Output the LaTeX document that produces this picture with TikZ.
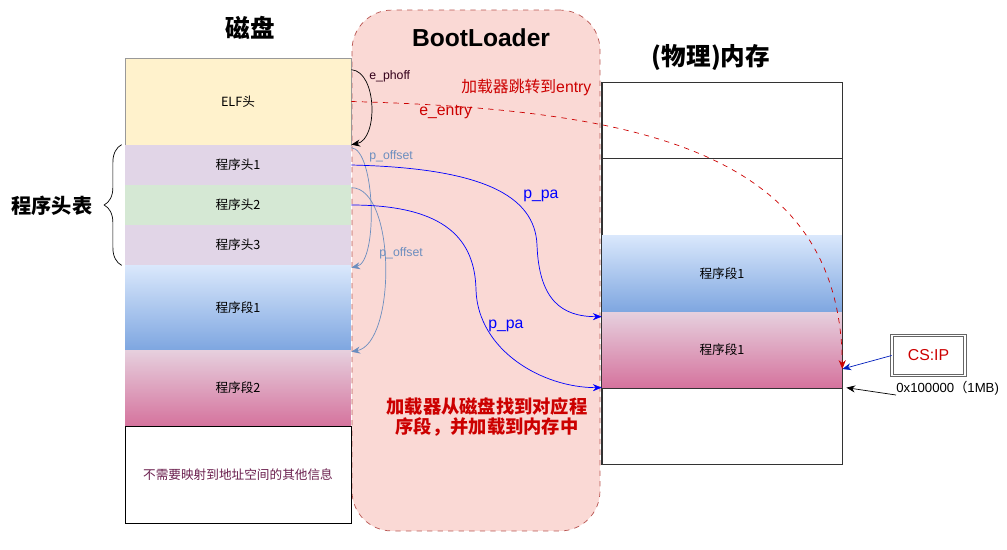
\documentclass[tikz,border=0pt]{standalone}
\usepackage{fontspec}
\setmainfont{Liberation Sans}
\newfontfamily\cjk{Noto Sans CJK SC}
\usetikzlibrary{arrows.meta, positioning, decorations.pathreplacing, calc}
\definecolor{mElfYellow}{HTML}{FFF2CC}
\definecolor{mHeadPurple}{HTML}{E1D5E7}
\definecolor{mHeadGreen}{HTML}{D5E8D4}
\definecolor{mSegBlueTop}{HTML}{DAE8FC}
\definecolor{mSegBlueBot}{HTML}{7EA6E0}
\definecolor{mSegPinkTop}{HTML}{E6D0DE}
\definecolor{mSegPinkBot}{HTML}{D5739D}
\definecolor{mLoaderFill}{HTML}{FAD9D5}
\definecolor{mLoaderEdge}{HTML}{B85450}
\definecolor{mOffset}{HTML}{6C8EBF}
\definecolor{mEntryRed}{HTML}{CC0000}
\definecolor{mDarkBlue}{HTML}{001DBC}
\definecolor{mInfo}{HTML}{6B1F4E}
\definecolor{mPhoff}{HTML}{33001A}

\begin{document}
\begin{tikzpicture}[x=0.02cm, y=-0.02cm,
    cell/.style={minimum width=4.52cm, inner sep=0pt, font=\fontsize{7.2}{8}\selectfont\cjk},
    mcell/.style={cell, minimum width=4.8cm, draw=black!80},
    title/.style={font=\fontsize{14}{16}\selectfont\bfseries},
    arr/.style={-{Stealth[length=5pt, width=4pt]}},
    tag/.style={anchor=west, inner sep=0pt}]
\useasboundingbox (0,0) rectangle (1007,549);
% BootLoader region
\node[draw=mLoaderEdge, dashed, fill=mLoaderFill, rounded corners=0.8cm,
      minimum width=4.96cm, minimum height=10.42cm] (boot) at (476,270.5) {};
% Titles
\node[title] (diskT) at (250,28) {\cjk 磁盘};
\node[title] (bootT) at (481,38) {BootLoader};
\node[title] (memT) at (711,57) {\cjk (物理)内存};
% Disk
\node[cell, fill=mElfYellow, draw=black!40, minimum height=1.74cm] (elf) at (238,101.5) {ELF头};
\node[cell, fill=mHeadPurple, minimum height=0.8cm] (ph1) at (238,165) {程序头1};
\node[cell, fill=mHeadGreen, minimum height=0.8cm] (ph2) at (238,205) {程序头2};
\node[cell, fill=mHeadPurple, minimum height=0.8cm] (ph3) at (238,245) {程序头3};
\node[cell, top color=mSegBlueTop, bottom color=mSegBlueBot, minimum height=1.7cm] (seg1) at (238,307.5) {程序段1};
\node[cell, top color=mSegPinkTop, bottom color=mSegPinkBot, minimum height=1.52cm] (seg2) at (238,388) {程序段2};
\node[cell, draw=black, fill=white, text=mInfo, minimum height=1.94cm] (other) at (238,474.5) {不需要映射到地址空间的其他信息};
% Program header table brace
\draw[decorate, decoration={brace, amplitude=10pt}]
    ([xshift=-0.06cm]ph3.south west) -- ([xshift=-0.06cm]ph1.north west);
\node[font=\fontsize{11.5}{13}\selectfont\bfseries\cjk] (phtab) at (52,206) {程序头表};
% Memory
\node[mcell, minimum height=1.52cm] (m1) at (722,120) {};
\node[mcell, minimum height=1.54cm] (m2) at (722,196.5) {};
\node[mcell, top color=mSegBlueTop, bottom color=mSegBlueBot, draw=none, minimum height=1.54cm] (m3) at (722,273.5) {程序段1};
\node[mcell, top color=mSegPinkTop, bottom color=mSegPinkBot, draw=none, minimum height=1.52cm] (m4) at (722,350) {程序段1};
\node[mcell, minimum height=1.52cm] (m5) at (722,426) {};
\draw[black!80] (m1.north west) -- (m5.south west) -- (m5.south east) -- (m1.north east);
\coordinate (entry) at ([yshift=-0.38cm]m4.east);
% CS:IP register
\node[draw=black!60, double=white, double distance=1pt, minimum width=1.46cm, minimum height=0.8cm,
      text=mEntryRed, font=\fontsize{9}{10}\selectfont] (csip) at (928.5,355.5) {CS:IP};
\node[tag, font=\fontsize{7.5}{9}\selectfont] (addr) at (896,388) {0x100000{\cjk （}1MB)};
\draw[arr, mDarkBlue] (csip.west) -- (entry);
\draw[arr, black] ([yshift=-0.14cm]addr.west) -- ([xshift=0.08cm]m5.north east);
% e_phoff
\draw[arr, black] ([yshift=-0.24cm]elf.north east) .. controls +(26,2) and +(27,-5) .. (ph1.north east);
\node[tag, text=mPhoff, font=\fontsize{7}{8}\selectfont] at (369,76) {e\_phoff};
% e_entry
\draw[arr, mEntryRed, dashed] (elf.east) .. controls +(289,8) and +(-2,-218) .. (entry);
\node[tag, text=mEntryRed, font=\fontsize{9}{10}\selectfont] at (419,112) {e\_entry};
\node[tag, text=mEntryRed, font=\fontsize{9}{10}\selectfont] at (461,87) {{\cjk 加载器跳转到}entry};
% p_offset
\draw[arr, mOffset] ([yshift=-0.06cm]ph1.north east) .. controls +(24,2) and +(27,-6) .. ([yshift=-0.06cm]seg1.north east);
\draw[arr, mOffset] ([yshift=-0.06cm]ph2.north east) .. controls +(45,0) and +(45,-8) .. ([yshift=-0.04cm]seg2.north east);
\node[tag, text=mOffset, font=\fontsize{7}{8}\selectfont] at (369,156) {p\_offset};
\node[tag, text=mOffset, font=\fontsize{7}{8}\selectfont] at (379,253) {p\_offset};
% p_pa
\draw[arr, blue] (ph1.east) .. controls +(130,3) and +(-2,-50) .. (537,245)
    .. controls +(2,55) and +(-40,0) .. ([yshift=-0.1cm]m4.north west);
\draw[arr, blue] (ph2.east) .. controls +(95,0) and +(-1,-50) .. (476,290)
    .. controls +(2,60) and +(-60,0) .. (m5.north west);
\node[tag, text=blue, font=\fontsize{9}{10}\selectfont] at (523,196) {p\_pa};
\node[tag, text=blue, font=\fontsize{9}{10}\selectfont] at (488,326) {p\_pa};
% Loader note
\node[align=center, text=mEntryRed, font=\fontsize{10.4}{11.2}\selectfont\bfseries\cjk] (note) at (487,417)
    {加载器从磁盘找到对应程\\序段，并加载到内存中};
\end{tikzpicture}
\end{document}
